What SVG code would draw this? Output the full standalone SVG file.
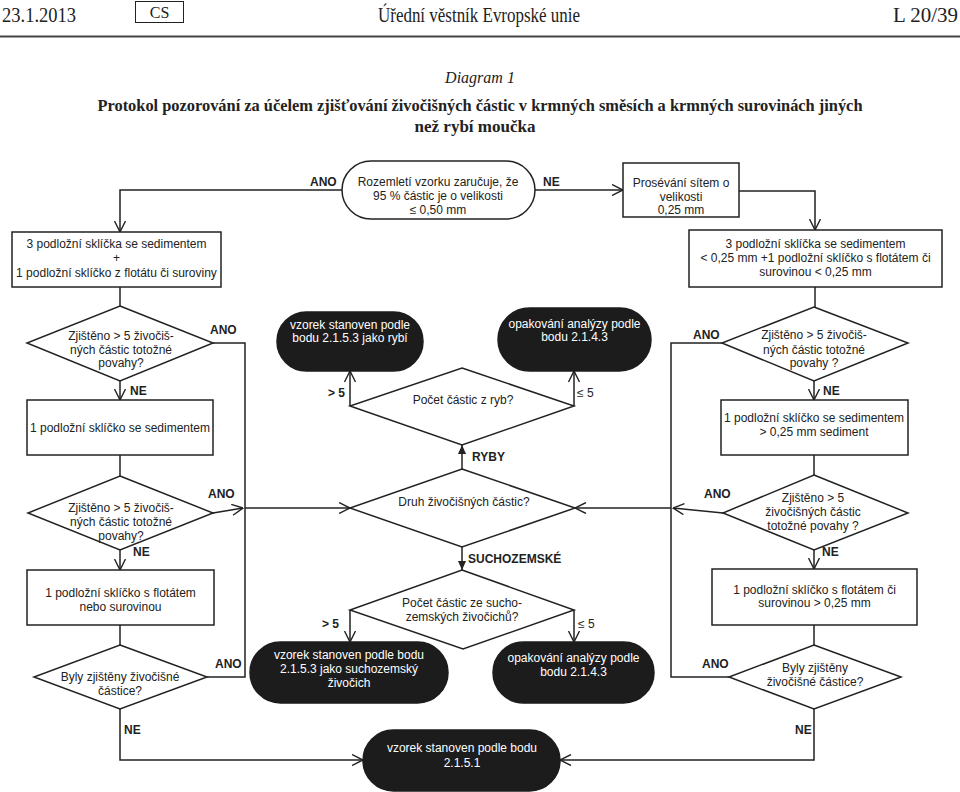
<svg xmlns="http://www.w3.org/2000/svg" width="960" height="792" viewBox="0 0 960 792">
<style>
.t{font-family:"Liberation Sans",Arial,sans-serif;font-size:12px;fill:#222;text-anchor:middle}
.l{font-family:"Liberation Sans",Arial,sans-serif;font-size:12px;fill:#222;font-weight:bold}
.n{font-family:"Liberation Sans",Arial,sans-serif;font-size:12px;fill:#222}
.w{fill:#fff}
.box{fill:#fff;stroke:#222;stroke-width:1.5}
.pill{fill:#1c1c1c;stroke:#1c1c1c;stroke-width:1.5}
.c{fill:none;stroke:#222;stroke-width:1.5}
.a{marker-end:url(#open)}
.f{marker-end:url(#fill)}
.s{font-family:"Liberation Serif","Times New Roman",serif;fill:#222}
</style>
<defs>
<marker id="open" viewBox="0 0 12 12" refX="11.5" refY="6" markerWidth="12" markerHeight="12" orient="auto" markerUnits="userSpaceOnUse">
<path d="M0.5,0.5 L11.5,6 L0.5,11.5" fill="none" stroke="#222" stroke-width="1.4"/>
</marker>
<marker id="fill" viewBox="0 0 10 10" refX="10" refY="5" markerWidth="10" markerHeight="9" orient="auto" markerUnits="userSpaceOnUse">
<path d="M0,0.5 L10,5 L0,9.5 Z" fill="#222"/>
</marker>
</defs>
<rect width="960" height="792" fill="#fff"/>

<g id="header">
<text class="s" x="2" y="22" font-size="20" textLength="74" lengthAdjust="spacingAndGlyphs">23.1.2013</text>
<rect x="135.5" y="1.5" width="48" height="21" fill="none" stroke="#222" stroke-width="1"/>
<text class="s" x="159.5" y="18" font-size="16" text-anchor="middle">CS</text>
<text class="s" x="479" y="22" font-size="20" text-anchor="middle" textLength="202" lengthAdjust="spacingAndGlyphs">Úřední věstník Evropské unie</text>
<text class="s" x="958" y="22" font-size="20" text-anchor="end" textLength="65" lengthAdjust="spacingAndGlyphs">L 20/39</text>
<line x1="0" y1="36.5" x2="960" y2="36.5" stroke="#444" stroke-width="2"/>
<text class="s" x="480" y="83" font-size="16" font-style="italic" text-anchor="middle">Diagram 1</text>
<text class="s" x="480" y="111" font-size="17" font-weight="bold" text-anchor="middle" textLength="765" lengthAdjust="spacingAndGlyphs">Protokol pozorování za účelem zjišťování živočišných částic v krmných směsích a krmných surovinách jiných</text>
<text class="s" x="475" y="132" font-size="17" font-weight="bold" text-anchor="middle">než rybí moučka</text>
</g>

<g id="connectors">
<path class="c a" d="M342,190 H120 V232"/>
<path class="c a" d="M535,190 H623"/>
<path class="c a" d="M739,191 H815 V230"/>
<path class="c" d="M120,287 V306"/>
<path class="c" d="M815,287 V307"/>
<path class="c" d="M213,343 H245 V677 H207"/>
<path class="c a" d="M213,513 L243,508"/>
<path class="c a" d="M245,508 H350"/>
<path class="c a" d="M120,381 V400"/>
<path class="c" d="M120,455 V476"/>
<path class="c a" d="M120,550 V570"/>
<path class="c" d="M120,625 V645"/>
<path class="c a" d="M120,709 V760 H363"/>
<path class="c" d="M722,343 H671 V677 H729"/>
<path class="c a" d="M723,513 L673,508"/>
<path class="c a" d="M671,508 H575"/>
<path class="c a" d="M814,381 V400"/>
<path class="c" d="M814,455 V475"/>
<path class="c a" d="M814,550 V569"/>
<path class="c" d="M814,625 V645"/>
<path class="c a" d="M814,709 V760 H560"/>
<path class="c f" d="M462,469 V445"/>
<path class="c a" d="M350,406 V371"/>
<path class="c a" d="M574,406 V371"/>
<path class="c f" d="M462,547 V570"/>
<path class="c a" d="M350,610 V642"/>
<path class="c a" d="M574,610 V642"/>
</g>

<g id="labels">
<text class="l" x="310" y="186">ANO</text>
<text class="l" x="543" y="186">NE</text>
<text class="l" x="210" y="334">ANO</text>
<text class="l" x="130" y="395">NE</text>
<text class="l" x="208" y="498">ANO</text>
<text class="l" x="133" y="556">NE</text>
<text class="l" x="215" y="668">ANO</text>
<text class="l" x="124" y="734">NE</text>
<text class="l" x="693" y="339">ANO</text>
<text class="l" x="823" y="395">NE</text>
<text class="l" x="704" y="498">ANO</text>
<text class="l" x="822" y="556">NE</text>
<text class="l" x="702" y="668">ANO</text>
<text class="l" x="795" y="734">NE</text>
<text class="l" x="472" y="461">RYBY</text>
<text class="l" x="468" y="563">SUCHOZEMSKÉ</text>
<text class="l" x="328" y="397">&gt; 5</text>
<text class="n" x="577" y="397">≤ 5</text>
<text class="l" x="322" y="628">&gt; 5</text>
<text class="n" x="578" y="628">≤ 5</text>
</g>

<g id="n_rozemleti">
<rect class="box" x="342" y="161" width="193" height="58" rx="29"/>
<text class="t" x="438" y="186">Rozemletí vzorku zaručuje, že</text>
<text class="t" x="438" y="200">95 % částic je o velikosti</text>
<text class="t" x="438" y="214">≤ 0,50 mm</text>
</g>
<g id="n_proseVani">
<rect class="box" x="623" y="163" width="116" height="54"/>
<text class="t" x="681" y="187">Prosévání sítem o</text>
<text class="t" x="681" y="201">velikosti</text>
<text class="t" x="681" y="214">0,25 mm</text>
</g>
<g id="n_box_l1">
<rect class="box" x="12" y="232" width="209" height="55"/>
<text class="t" x="116.5" y="248">3 podložní sklíčka se sedimentem</text>
<text class="t" x="116.5" y="262">+</text>
<text class="t" x="116.5" y="277">1 podložní sklíčko z flotátu či suroviny</text>
</g>
<g id="n_box_r1">
<rect class="box" x="689" y="230" width="253" height="57"/>
<text class="t" x="815.5" y="248">3 podložní sklíčka se sedimentem</text>
<text class="t" x="815.5" y="262">&lt; 0,25 mm +1 podložní sklíčko s flotátem či</text>
<text class="t" x="815.5" y="276">surovinou  &lt; 0,25 mm</text>
</g>
<g id="n_dia_l1">
<polygon class="box" points="120,306 213,343 120,381 27,343"/>
<text class="t" x="121" y="340">Zjištěno &gt; 5  živočiš-</text>
<text class="t" x="121" y="354">ných částic totožné</text>
<text class="t" x="121" y="367">povahy?</text>
</g>
<g id="n_dia_r1">
<polygon class="box" points="814,307 908,343 814,381 722,343"/>
<text class="t" x="814" y="339">Zjištěno &gt; 5 živočiš-</text>
<text class="t" x="814" y="354">ných částic totožné</text>
<text class="t" x="814" y="367">povahy ?</text>
</g>
<g id="n_ryba_pill">
<rect class="pill" x="277" y="312" width="146" height="59" rx="29.5"/>
<text class="t w" x="350" y="329" font-size="11.5">vzorek stanoven podle</text>
<text class="t w" x="350" y="342" font-size="11.5">bodu 2.1.5.3 jako rybí</text>
</g>
<g id="n_opak1">
<rect class="pill" x="498" y="308" width="153" height="63" rx="31.5"/>
<text class="t w" x="574.5" y="328">opakování analýzy podle</text>
<text class="t w" x="574.5" y="341">bodu 2.1.4.3</text>
</g>
<g id="n_pocet_ryb">
<polygon class="box" points="462,368 574,406 462,445 350,406"/>
<text class="t" x="463" y="404">Počet částic z ryb?</text>
</g>
<g id="n_box_l2">
<rect class="box" x="27" y="400" width="186" height="55"/>
<text class="t" x="120" y="432">1 podložní sklíčko se sedimentem</text>
</g>
<g id="n_box_r2">
<rect class="box" x="721" y="400" width="187" height="55"/>
<text class="t" x="814" y="422">1 podložní sklíčko se sedimentem</text>
<text class="t" x="814" y="436">&gt; 0,25 mm sediment</text>
</g>
<g id="n_dia_l3">
<polygon class="box" points="120,476 213,513 120,550 28,513"/>
<text class="t" x="121" y="512">Zjištěno &gt; 5 živočiš-</text>
<text class="t" x="121" y="526">ných částic totožné</text>
<text class="t" x="121" y="540">povahy?</text>
</g>
<g id="n_druh">
<polygon class="box" points="462,469 575,508 462,547 350,508"/>
<text class="t" x="464" y="506">Druh živočišných částic?</text>
</g>
<g id="n_dia_r3">
<polygon class="box" points="814,475 908,513 814,550 723,513"/>
<text class="t" x="813" y="502">Zjištěno &gt; 5</text>
<text class="t" x="813" y="516">živočišných částic</text>
<text class="t" x="813" y="530">totožné povahy ?</text>
</g>
<g id="n_box_l4">
<rect class="box" x="27" y="570" width="187" height="55"/>
<text class="t" x="120.5" y="597">1 podložní sklíčko s flotátem</text>
<text class="t" x="120.5" y="611">nebo surovinou</text>
</g>
<g id="n_pocet_such">
<polygon class="box" points="462,570 574,610 463,649 350,610"/>
<text class="t" x="462" y="607">Počet částic ze sucho-</text>
<text class="t" x="462" y="621">zemských živočichů?</text>
</g>
<g id="n_box_r4">
<rect class="box" x="712" y="569" width="205" height="56"/>
<text class="t" x="814.5" y="594">1 podložní sklíčko s flotátem či</text>
<text class="t" x="814.5" y="607">surovinou &gt; 0,25 mm</text>
</g>
<g id="n_dia_l5">
<polygon class="box" points="120,645 207,677 120,709 34,677"/>
<text class="t" x="120" y="681">Byly zjištěny živočišné</text>
<text class="t" x="120" y="695">částice?</text>
</g>
<g id="n_such_pill">
<rect class="pill" x="250" y="642" width="198" height="61" rx="30.5"/>
<text class="t w" x="349" y="659">vzorek stanoven podle bodu</text>
<text class="t w" x="349" y="673">2.1.5.3 jako suchozemský</text>
<text class="t w" x="349" y="687">živočich</text>
</g>
<g id="n_opak2">
<rect class="pill" x="493" y="642" width="161" height="61" rx="30.5"/>
<text class="t w" x="573.5" y="662">opakování analýzy podle</text>
<text class="t w" x="573.5" y="676">bodu 2.1.4.3</text>
</g>
<g id="n_dia_r5">
<polygon class="box" points="814,645 901,677 814,709 729,677"/>
<text class="t" x="815" y="672">Byly zjištěny</text>
<text class="t" x="815" y="686">živočišné částice?</text>
</g>
<g id="n_final">
<rect class="pill" x="363" y="730" width="197" height="61" rx="30.5"/>
<text class="t w" x="462" y="752">vzorek stanoven podle bodu</text>
<text class="t w" x="462" y="767">2.1.5.1</text>
</g>
</svg>
